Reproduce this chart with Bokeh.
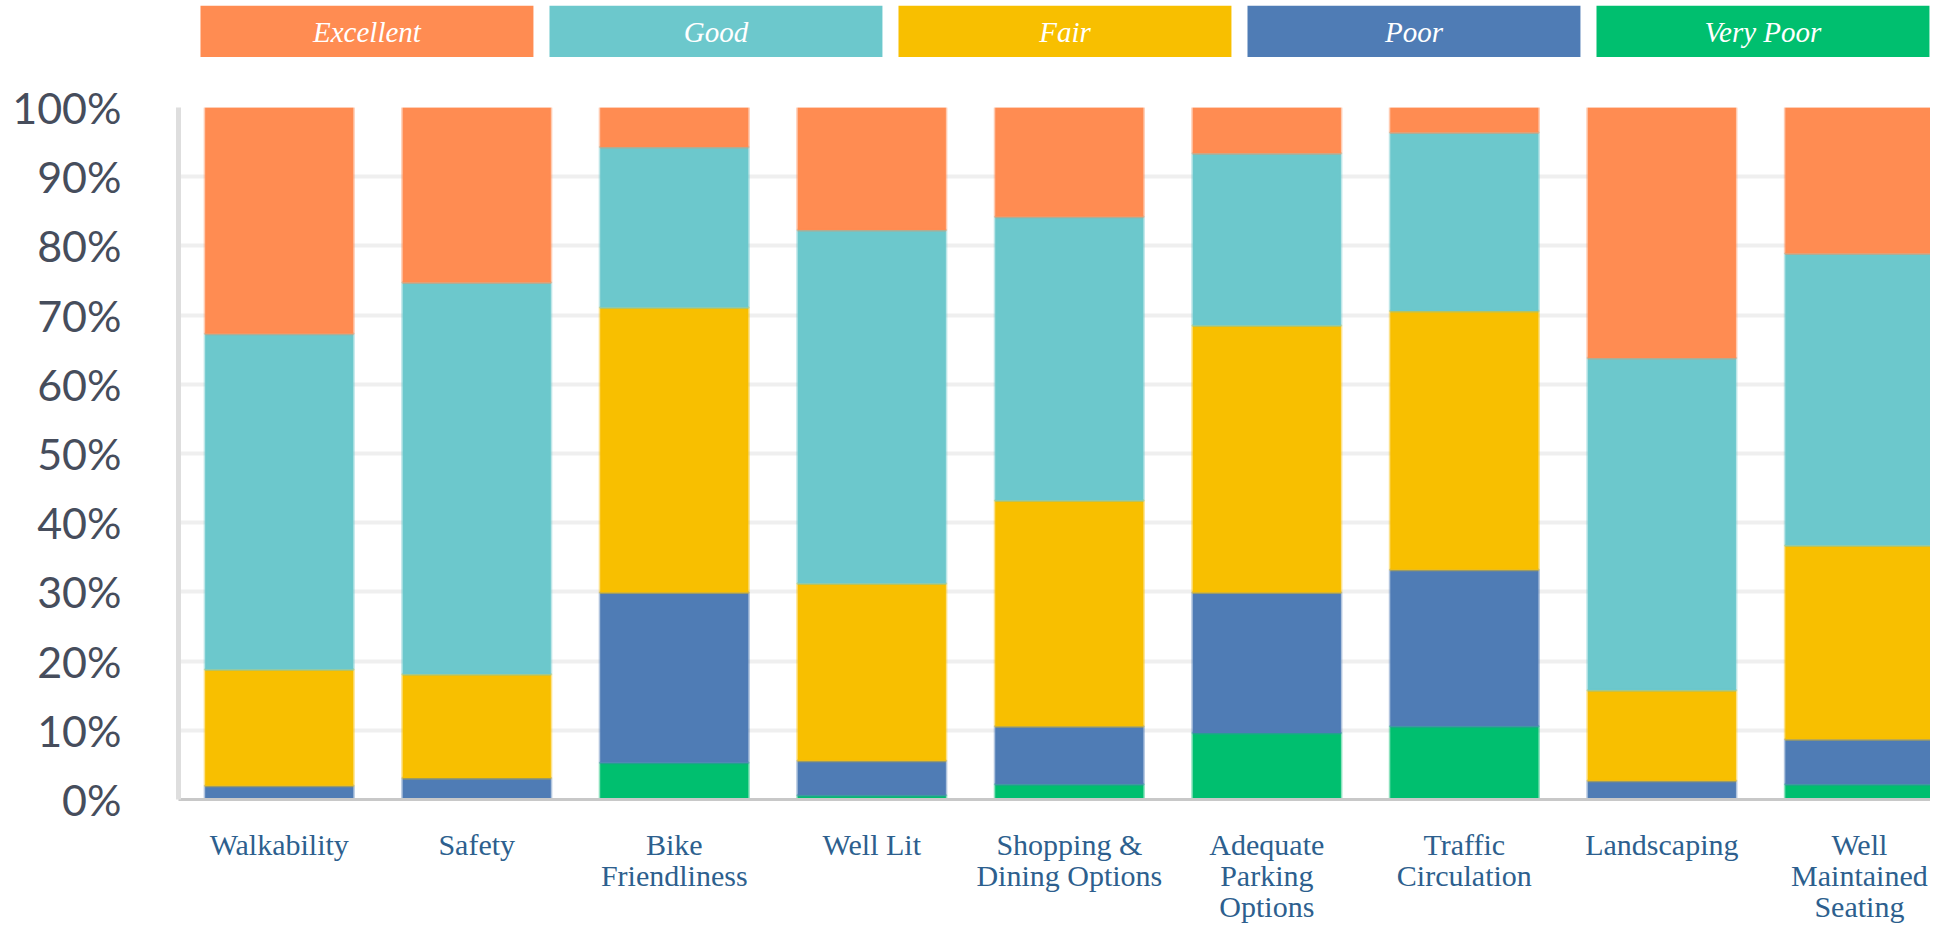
from bokeh.plotting import figure
from bokeh.models import ColumnDataSource, Range1d, FixedTicker, PrintfTickFormatter
from bokeh.layouts import column
from bokeh.core.properties import value
from bokeh.embed import file_html
from bokeh.resources import INLINE

categories = ["Walkability", "Safety", "Bike Friendliness", "Well Lit",
              "Shopping & Dining Options", "Adequate Parking Options",
              "Traffic Circulation", "Landscaping", "Well Maintained Seating"]
tick_labels = ["Walkability", "Safety", "Bike\nFriendliness", "Well Lit",
               "Shopping &\nDining Options", "Adequate\nParking\nOptions",
               "Traffic\nCirculation", "Landscaping", "Well\nMaintained\nSeating"]

very_poor = [0.0, 0.0, 5.3, 0.6, 2.2, 9.6, 10.6, 0.0, 2.2]
poor = [2.0, 3.1, 24.6, 5.0, 8.4, 20.3, 22.6, 2.7, 6.5]
fair = [16.8, 15.0, 41.2, 25.6, 32.6, 38.6, 37.4, 13.1, 28.0]
good = [48.5, 56.6, 23.2, 51.1, 41.0, 24.9, 25.8, 48.0, 42.2]
excellent = [32.7, 25.3, 5.7, 17.7, 15.8, 6.6, 3.6, 36.2, 21.1]

series_names = ["Excellent", "Good", "Fair", "Poor", "Very Poor"]
series_colors = ["#FF8C52", "#6CC8CC", "#F8BF00", "#4F7CB5", "#00BF6F"]

y_ticks = [0, 10, 20, 30, 40, 50, 60, 70, 80, 90, 100]

W = 1930
LEFT = 178

# ---------- legend strip (frame aligned with main chart frame) ----------
lx = list(range(len(series_names)))
leg_src = ColumnDataSource(dict(x=lx, name=series_names, color=series_colors))
leg = figure(width=W, height=57, x_range=Range1d(-0.540, 4.480), y_range=Range1d(0, 1),
             output_backend="svg", toolbar_location=None,
             x_axis_location=None, y_axis_location=None,
             min_border_left=LEFT, min_border_right=0, min_border_top=5, min_border_bottom=0)
leg.outline_line_color = None
leg.grid.visible = False
leg.vbar(x="x", top=1, bottom=0, width=0.954, fill_color="color", line_color=None, source=leg_src)
leg.text(x="x", y=0.5, text="name", source=leg_src, text_color="white",
         text_font=value("Liberation Serif"), text_font_style="italic",
         text_font_size="29px", text_align="center", text_baseline="middle")

# ---------- main chart ----------
x = list(range(len(categories)))
src = ColumnDataSource(dict(x=x, very_poor=very_poor, poor=poor, fair=fair,
                            good=good, excellent=excellent))

p = figure(width=W, height=869, x_range=Range1d(-0.51, 8.36), y_range=Range1d(0, 100),
           output_backend="svg", toolbar_location=None,
           min_border_left=LEFT, min_border_right=0, min_border_top=50, min_border_bottom=127)
p.outline_line_color = None

stack = ["very_poor", "poor", "fair", "good", "excellent"]
stack_colors = list(reversed(series_colors))
p.vbar_stack(stack, x="x", width=0.75, source=src,
             fill_color=stack_colors, line_color=stack_colors,
             line_alpha=0.45, line_width=3)

p.xgrid.visible = False
p.ygrid.grid_line_color = "#efefef"
p.ygrid.grid_line_width = 4
p.yaxis.ticker = FixedTicker(ticks=y_ticks)
p.yaxis.formatter = PrintfTickFormatter(format="%d%%")
p.xaxis.ticker = FixedTicker(ticks=x)
p.xaxis.major_label_overrides = {i: lab for i, lab in zip(x, tick_labels)}

for ax in (p.xaxis, p.yaxis):
    ax.major_tick_line_color = None
    ax.minor_tick_line_color = None
    ax.major_tick_out = 0
    ax.minor_tick_out = 0

p.yaxis.axis_line_color = "#dedede"
p.yaxis.axis_line_width = 5
p.yaxis.major_label_text_font = "Lato"
p.yaxis.major_label_text_font_size = "43px"
p.yaxis.major_label_text_color = "#464d5c"
p.yaxis.major_label_standoff = 57

p.xaxis.axis_line_color = "#c8c8c8"
p.xaxis.axis_line_width = 3
p.xaxis.major_label_text_font = "Liberation Serif"
p.xaxis.major_label_text_font_size = "30px"
p.xaxis.major_label_text_color = "#2d5f8e"
p.xaxis.major_label_text_line_height = 0.95
p.xaxis.major_label_standoff = 28

layout = column(leg, p)
open("out.html", "w").write(file_html(layout, INLINE))
